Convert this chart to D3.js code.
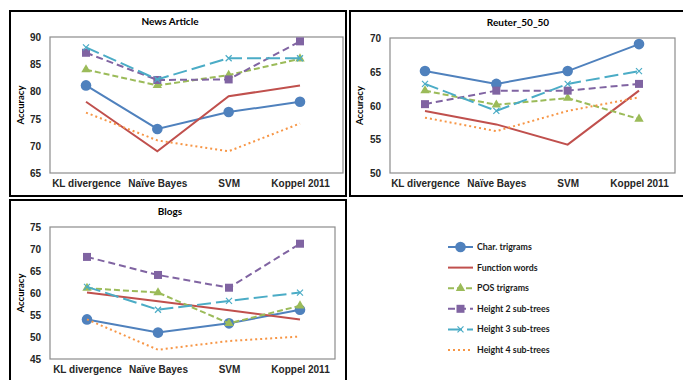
<!DOCTYPE html>
<html>
<head>
<meta charset="utf-8">
<script src="https://cdn.jsdelivr.net/npm/d3@7"></script>
<style>
  html, body { margin: 0; padding: 0; background: #fff; }
  svg { display: block; font-family: Lato, "Open Sans", sans-serif; }
  .tick text { font-weight: bold; fill: #262626; }
</style>
</head>
<body>
<svg id="chart" width="683" height="380"></svg>
<script>
// Classifier methods along the category axis
const categories = ["KL divergence", "Naïve Bayes", "SVM", "Koppel 2011"];

// Feature sets (one line per feature set)
const seriesNames = ["Char. trigrams", "Function words", "POS trigrams",
                     "Height 2 sub-trees", "Height 3 sub-trees", "Height 4 sub-trees"];

// Accuracy per feature set, in seriesNames order, per dataset
const newsArticle = [
  [81.1, 73.1, 76.2, 78.1],
  [78.1, 69.0, 79.1, 81.1],
  [84.0, 81.1, 83.0, 86.0],
  [87.1, 82.1, 82.2, 89.2],
  [88.1, 82.2, 86.1, 86.1],
  [76.1, 71.0, 69.0, 74.1]
];
const reuter5050 = [
  [65.1, 63.2, 65.1, 69.1],
  [59.2, 57.2, 54.2, 62.2],
  [62.2, 60.1, 61.1, 58.0],
  [60.2, 62.2, 62.2, 63.2],
  [63.2, 59.2, 63.2, 65.1],
  [58.2, 56.2, 59.2, 61.2]
];
const blogs = [
  [54.0, 51.0, 53.1, 56.2],
  [60.1, 58.1, 56.1, 54.0],
  [61.1, 60.1, 53.1, 57.1],
  [68.2, 64.1, 61.2, 71.2],
  [61.4, 56.2, 58.2, 60.1],
  [54.0, 47.1, 49.1, 50.1]
];

// Y tick labels per dataset
const newsTicks = [65, 70, 75, 80, 85, 90];
const reuterTicks = [50, 55, 60, 65, 70];
const blogsTicks = [45, 50, 55, 60, 65, 70, 75];

// Line styling per feature set
const styles = [
  { color: "#4F81BD", dash: null,    marker: "circle" },
  { color: "#C0504D", dash: null,    marker: "none" },
  { color: "#9BBB59", dash: "6,3",   marker: "triangle" },
  { color: "#8064A2", dash: "7,4",   marker: "square" },
  { color: "#4BACC6", dash: "14,5",  marker: "x" },
  { color: "#F79646", dash: "2,3",   marker: "none" }
];

const svg = d3.select("#chart");

// Panel frames
svg.append("rect").attr("x", 10).attr("y", 11).attr("width", 336).attr("height", 185)
  .attr("fill", "none").attr("stroke", "#000").attr("stroke-width", 2);
svg.append("rect").attr("x", 350).attr("y", 11).attr("width", 345).attr("height", 185)
  .attr("fill", "none").attr("stroke", "#000").attr("stroke-width", 2);
svg.append("rect").attr("x", 10).attr("y", 200).attr("width", 336).attr("height", 200)
  .attr("fill", "none").attr("stroke", "#000").attr("stroke-width", 2);

function drawMarker(g, type, color, x, y) {
  if (type === "circle") {
    g.append("circle").attr("cx", x).attr("cy", y).attr("r", 5.3).attr("fill", color);
  } else if (type === "square") {
    g.append("rect").attr("x", x - 4).attr("y", y - 4).attr("width", 8).attr("height", 8)
      .attr("fill", color);
  } else if (type === "triangle") {
    g.append("path").attr("d", d3.symbol(d3.symbolTriangle, 38)()).attr("transform", `translate(${x},${y})`)
      .attr("fill", color);
  } else if (type === "x") {
    g.append("path").attr("d", `M${x - 3},${y - 3}L${x + 3},${y + 3}M${x + 3},${y - 3}L${x - 3},${y + 3}`)
      .attr("stroke", color).attr("stroke-width", 1.2).attr("fill", "none");
  }
}

function drawPanel(opt) {
  const g = svg.append("g");
  const y = d3.scaleLinear().domain(opt.domain).range([opt.bottom, opt.top]);
  const x = d3.scalePoint().domain(categories).range(opt.xRange);

  // plot area frame
  g.append("rect").attr("x", opt.left).attr("y", opt.top)
    .attr("width", opt.right - opt.left).attr("height", opt.bottom - opt.top)
    .attr("fill", "none").attr("stroke", "#8c8c8c").attr("stroke-width", 1.2);

  // value axis
  const ya = g.append("g").attr("transform", `translate(${opt.left - 9},0)`)
    .call(d3.axisLeft(y).tickValues(opt.ticks).tickSize(0).tickPadding(0));
  ya.select(".domain").remove();
  ya.selectAll("text").attr("font-size", 10).attr("dy", "0.35em");

  // category axis
  const xa = g.append("g").attr("transform", `translate(0,${opt.bottom + 7})`)
    .call(d3.axisBottom(x).tickSize(0).tickPadding(0));
  xa.select(".domain").remove();
  xa.selectAll("text").attr("font-size", 10).attr("dy", "0.71em");

  // titles
  g.append("text").attr("x", opt.titleX).attr("y", opt.top - 12)
    .attr("text-anchor", "middle").attr("font-size", 10).attr("font-weight", "bold")
    .attr("fill", "#000").text(opt.title);
  g.append("text")
    .attr("transform", `translate(${opt.yTitleX},${(opt.top + opt.bottom) / 2}) rotate(-90)`)
    .attr("text-anchor", "middle").attr("dy", "0.35em").attr("font-size", 9.5)
    .attr("font-weight", "bold").attr("fill", "#000").text("Accuracy");

  const line = d3.line().x((d, i) => x(categories[i])).y(d => y(d));
  opt.data.forEach((vals, si) => {
    const st = styles[si];
    g.append("path").datum(vals).attr("d", line)
      .attr("fill", "none").attr("stroke", st.color).attr("stroke-width", 2)
      .attr("stroke-dasharray", st.dash);
    vals.forEach((v, i) => drawMarker(g, st.marker, st.color, x(categories[i]), y(v)));
  });
}

drawPanel({ title: "News Article", data: newsArticle, ticks: newsTicks, domain: [65, 90],
  left: 50, right: 343, top: 37, bottom: 173, xRange: [86, 300], titleX: 170, yTitleX: 21 });
drawPanel({ title: "Reuter_50_50", data: reuter5050, ticks: reuterTicks, domain: [50, 70],
  left: 390, right: 675, top: 38, bottom: 173, xRange: [425, 639], titleX: 518, yTitleX: 360 });
drawPanel({ title: "Blogs", data: blogs, ticks: blogsTicks, domain: [45, 75],
  left: 50, right: 335, top: 227, bottom: 359, xRange: [87, 300], titleX: 170, yTitleX: 21 });

// Legend
const legend = svg.append("g");
seriesNames.forEach((name, i) => {
  const st = styles[i];
  const ly = 247 + i * 20.6;
  legend.append("line").attr("x1", 448).attr("x2", 473).attr("y1", ly).attr("y2", ly)
    .attr("stroke", st.color).attr("stroke-width", 2).attr("stroke-dasharray", st.dash);
  drawMarker(legend, st.marker, st.color, 460.5, ly);
  legend.append("text").attr("x", 477).attr("y", ly).attr("dy", "0.35em")
    .attr("font-size", 8.8).attr("font-weight", "bold").attr("fill", "#1a1a1a").text(name);
});
</script>
</body>
</html>
